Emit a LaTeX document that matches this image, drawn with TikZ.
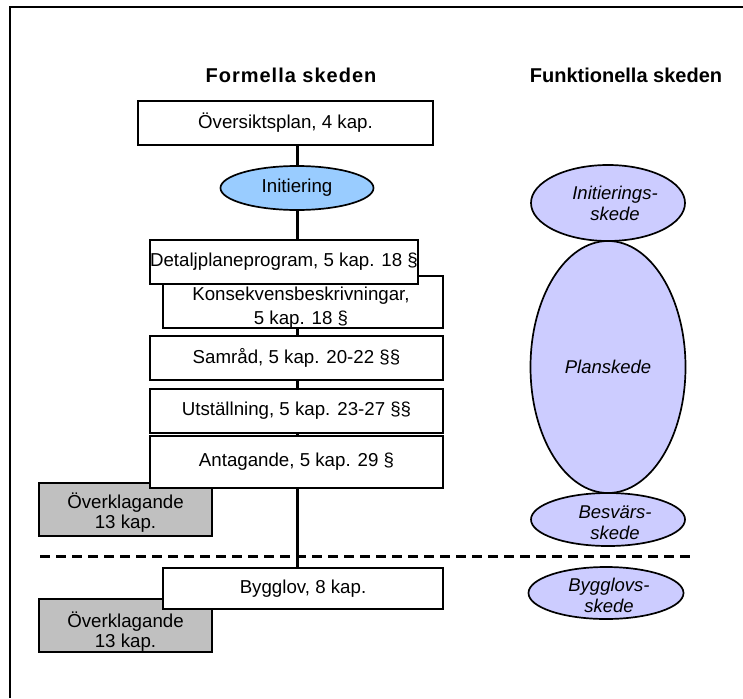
\documentclass[tikz,border=0pt]{standalone}
\usepackage{fontspec}
\setmainfont{Liberation Sans}
\usetikzlibrary{shapes.geometric,backgrounds}
\definecolor{initblue}{HTML}{99CCFF}
\definecolor{phasefill}{HTML}{CCCCFF}
\definecolor{appealfill}{HTML}{C0C0C0}

\begin{document}
\begin{tikzpicture}[x=1pt,y=-1pt,
  stagebox/.style={draw=black,line width=1.7pt,fill=white,rectangle,inner sep=0pt,
    align=center,font=\fontsize{18.7}{20}\selectfont},
  stagetext/.style={inner sep=0pt,align=center,font=\fontsize{18.7}{20}\selectfont},
  appealbox/.style={stagebox,fill=appealfill,minimum width=173pt,minimum height=53pt},
  startoval/.style={draw=black,line width=1.7pt,fill=initblue,ellipse,inner sep=0pt,
    font=\fontsize{18.7}{20}\selectfont},
  phaseoval/.style={draw=black,line width=1.7pt,fill=phasefill,ellipse,inner sep=0pt},
  phasetext/.style={inner sep=0pt,align=center,font=\fontsize{18.5}{21}\selectfont\itshape},
  heading/.style={font=\fontsize{20}{24}\selectfont\bfseries,inner sep=0pt},
  spine/.style={line width=3pt},
  divider/.style={line width=3pt,dash pattern=on 10pt off 6pt},
  frameline/.style={line width=1.6pt}
]
\useasboundingbox (0,0) rectangle (743,698);

% outer frame (left and top edges)
\coordinate (frameTL) at (10,7);
\coordinate (frameBL) at (10,698);
\coordinate (frameTR) at (743,7);
\draw[frameline] (frameBL) -- (frameTL) -- (frameTR);

% column headings
\node[heading] (hform) at (291,75) {\addfontfeature{LetterSpace=5}Formella skeden};
\node[heading] (hfunk) at (626,75) {Funktionella skeden};

% formal stages
\node[stagebox,minimum width=295pt,minimum height=44pt] (ov) at (285.5,123) {Översiktsplan, 4 kap.};
\node[startoval,minimum width=153pt,minimum height=44pt] (init) at (297,188) {Initiering};
\node[stagebox,minimum width=280pt,minimum height=52pt] (kons) at (303,302) {};
\node[stagetext] (konstext) at ([yshift=-6pt,xshift=-2pt]kons.center)
  {Konsekvensbeskrivningar,\\[4pt]5 kap. 18 §};
\node[stagebox,minimum width=268pt,minimum height=44pt] (detalj) at (284,262) {Detaljplaneprogram, 5 kap. 18 §};
\node[stagebox,minimum width=293pt,minimum height=44pt] (samrad) at (296.5,358) {Samråd, 5 kap. 20-22 §§};
\node[stagebox,minimum width=293pt,minimum height=44pt] (utst) at (296.5,411) {Utställning, 5 kap. 23-27 §§};
\node[appealbox] (overk1) at (125.5,509.5) {};
\node[stagetext] (overk1text) at ([yshift=-3pt]overk1.center) {Överklagande\\13 kap.};
\node[stagebox,minimum width=293pt,minimum height=52pt] (antag) at (296.5,462) {Antagande, 5 kap. 29 §};
\node[appealbox] (overk2) at (125.5,625.5) {};
\node[stagetext] (overk2text) at ([yshift=-6pt]overk2.center) {Överklagande\\13 kap.};
\node[stagebox,minimum width=280pt,minimum height=41pt] (bygg) at (303,588.5) {Bygglov, 8 kap.};

% functional phases
\node[phaseoval,minimum width=154pt,minimum height=76pt] (pinit) at (608,203) {};
\node[phasetext] (pinittext) at ([xshift=7pt]pinit.center) {Initierings-\\skede};
\node[phaseoval,minimum width=155pt,minimum height=252pt] (pplan) at (608,367) {};
\node[phasetext] (pplantext) at (pplan.center) {Planskede};
\node[phaseoval,minimum width=154pt,minimum height=53pt] (pbesv) at (608,519.5) {};
\node[phasetext] (pbesvtext) at ([xshift=7pt,yshift=-3pt]pbesv.center) {Besvärs-\\skede};
\node[phaseoval,minimum width=155pt,minimum height=52pt] (pbygg) at (606,593) {};
\node[phasetext] (pbyggtext) at ([xshift=3pt,yshift=-2pt]pbygg.center) {Bygglovs-\\skede};

% spine and divider behind the boxes
\coordinate (divL) at (40,556);
\coordinate (divR) at (693,556);
\begin{scope}[on background layer]
  \draw[spine] (init |- ov.south) -- (init |- bygg.north);
  \draw[divider] (divL) -- (divR);
\end{scope}
\end{tikzpicture}
\end{document}
